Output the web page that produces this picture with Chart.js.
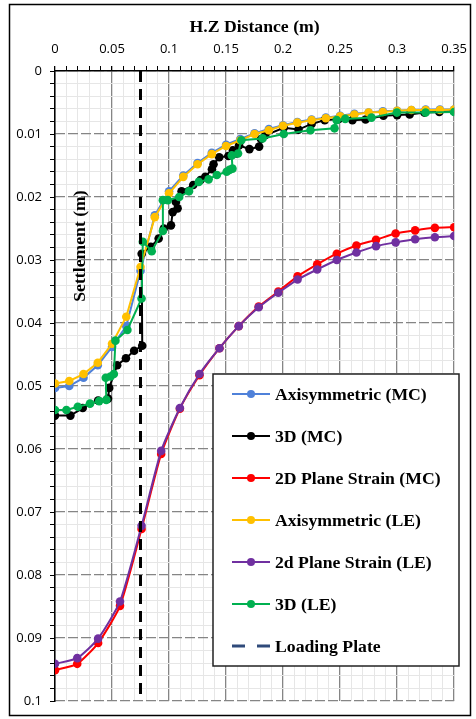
<!DOCTYPE html>
<html>
<head>
<meta charset="utf-8">
<script src="https://cdn.jsdelivr.net/npm/chart.js@4.4.0/dist/chart.umd.min.js"></script>
<style>
  html, body { margin: 0; padding: 0; background: #fff; }
  #wrap { width: 476px; height: 719px; }
</style>
</head>
<body>
<div id="wrap"><canvas id="myChart" width="476" height="719"></canvas></div>
<script>
// horizontal distance (m) / settlement (m)
const axiX = [0, 0.0125, 0.025, 0.0375, 0.05, 0.0625, 0.075, 0.0875, 0.1, 0.1125, 0.125, 0.1375, 0.15, 0.1625, 0.175,
  0.1875, 0.2, 0.2125, 0.225, 0.2375, 0.25, 0.2625, 0.275, 0.2875, 0.3, 0.3125, 0.325, 0.3375, 0.35];
const axiMC = [0.0503, 0.0500, 0.0487, 0.0467, 0.0438, 0.0405, 0.0317, 0.0229, 0.0191, 0.0166, 0.0146, 0.0130, 0.0117, 0.0108, 0.0099,
  0.0092, 0.0086, 0.0081, 0.0077, 0.0074, 0.0071, 0.0068, 0.0066, 0.0064, 0.0063, 0.0062, 0.0061, 0.0061, 0.0061];
const axiLE = [0.0496, 0.0492, 0.0481, 0.0463, 0.0433, 0.0390, 0.0311, 0.0232, 0.0194, 0.0168, 0.0148, 0.0132, 0.0119, 0.0110, 0.0100,
  0.0094, 0.0087, 0.0082, 0.0078, 0.0075, 0.0072, 0.0069, 0.0066, 0.0065, 0.0063, 0.0062, 0.0062, 0.0062, 0.0061];

const mc3dX = [0, 0.0135, 0.0243, 0.0378, 0.0465, 0.0475, 0.0545, 0.0622, 0.0694, 0.0765, 0.0760, 0.0840, 0.0909, 0.0954, 0.1017,
  0.1032, 0.1075, 0.1060, 0.1110, 0.1212, 0.1276, 0.1318, 0.1376, 0.1390, 0.1440, 0.1520, 0.1560, 0.1591, 0.1614, 0.1705,
  0.1790, 0.1806, 0.1843, 0.2006, 0.2135, 0.2250, 0.2365, 0.2490, 0.2608, 0.2723, 0.2880, 0.3000, 0.3110, 0.3239, 0.3370, 0.3497];
const mc3dY = [0.0547, 0.0547, 0.0535, 0.0523, 0.0520, 0.0503, 0.0467, 0.0456, 0.0444, 0.0436, 0.0290, 0.0279, 0.0266, 0.0250, 0.0245,
  0.0224, 0.0218, 0.0208, 0.0191, 0.0181, 0.0173, 0.0168, 0.0156, 0.0148, 0.0137, 0.0135, 0.0126, 0.0131, 0.0118, 0.0124,
  0.0120, 0.0108, 0.0102, 0.0090, 0.0093, 0.0084, 0.0078, 0.0076, 0.0078, 0.0077, 0.0071, 0.0070, 0.0069, 0.0066, 0.0065, 0.0064];

const le3dX = [0, 0.0100, 0.0200, 0.0307, 0.0387, 0.0450, 0.0445, 0.0487, 0.0516, 0.0530, 0.0635, 0.0759, 0.0770, 0.0848, 0.0946,
  0.0946, 0.0989, 0.1089, 0.1175, 0.1261, 0.1347, 0.1419, 0.1505, 0.1530, 0.1556, 0.1550, 0.1605, 0.1634, 0.1820, 0.2006,
  0.2240, 0.2451, 0.2470, 0.2545, 0.2775, 0.2998, 0.3250, 0.3500];
const le3dY = [0.0538, 0.0538, 0.0533, 0.0528, 0.0524, 0.0522, 0.0487, 0.0485, 0.0481, 0.0428, 0.0411, 0.0361, 0.0271, 0.0286, 0.0254,
  0.0205, 0.0205, 0.0200, 0.0191, 0.0176, 0.0172, 0.0165, 0.0160, 0.0157, 0.0155, 0.0134, 0.0131, 0.0110, 0.0107, 0.0100,
  0.0094, 0.0091, 0.0078, 0.0076, 0.0074, 0.0066, 0.0066, 0.0065];

const ps2dX = [0, 0.0195, 0.0378, 0.0570, 0.0759, 0.0931, 0.1095, 0.1267, 0.1442, 0.1611, 0.1786, 0.1958, 0.2127, 0.2299, 0.2471,
  0.2643, 0.2815, 0.2987, 0.3158, 0.3331, 0.35];
const ps2dMC = [0.0951, 0.0941, 0.0908, 0.0849, 0.0727, 0.0608, 0.0536, 0.0483, 0.0440, 0.0405, 0.0374, 0.0350, 0.0326, 0.0307, 0.0290,
  0.0277, 0.0268, 0.0258, 0.0253, 0.0249, 0.0248];
const ps2dLE = [0.0941, 0.0932, 0.0901, 0.0842, 0.0722, 0.0603, 0.0535, 0.0481, 0.0440, 0.0405, 0.0375, 0.0352, 0.0331, 0.0315, 0.0300,
  0.0288, 0.0278, 0.0272, 0.0267, 0.0264, 0.0262];

const plateX = [0.075, 0.075];
const plateY = [0, 0.1];

const xTicksMajor = [0, 0.05, 0.1, 0.15, 0.2, 0.25, 0.3, 0.35];
const yTicksMajor = [0, 0.01, 0.02, 0.03, 0.04, 0.05, 0.06, 0.07, 0.08, 0.09, 0.1];

function pts(xs, ys) {
  return xs.map((x, i) => ({ x: x, y: ys[i] }));
}

function series(label, xs, ys, color, order, tension) {
  return {
    label: label,
    data: pts(xs, ys),
    borderColor: color,
    backgroundColor: color,
    pointBackgroundColor: color,
    pointBorderColor: color,
    borderWidth: 2,
    pointRadius: 4.3,
    pointBorderWidth: 0,
    tension: tension || 0,
    order: order
  };
}

const tickFont = { family: 'Open Sans', size: 13 };
const serifBold = 'bold 17.7px "Liberation Serif"';

function isMajor(v, list) {
  return list.some(t => Math.abs(t - v) < 1e-6);
}

// legend + y title + outer frame
const extras = {
  id: 'extras',
  afterDraw(chart) {
    const ctx = chart.ctx;
    ctx.save();
    // y axis title sits inside the plot
    ctx.font = serifBold;
    ctx.fillStyle = '#000';
    ctx.textAlign = 'center';
    ctx.textBaseline = 'middle';
    ctx.translate(80, 246);
    ctx.rotate(-Math.PI / 2);
    ctx.fillText('Settlement (m)', 0, 0);
    ctx.restore();

    // legend box
    ctx.save();
    ctx.fillStyle = '#fff';
    ctx.fillRect(213, 374, 246, 292);
    ctx.strokeStyle = '#222';
    ctx.lineWidth = 1.5;
    ctx.strokeRect(213, 374, 246, 292);
    chart.data.datasets.forEach((ds, i) => {
      const y = 394 + i * 42;
      ctx.lineWidth = ds.legendDash ? 3 : 2;
      ctx.strokeStyle = ds.legendColor || ds.borderColor;
      ctx.setLineDash(ds.legendDash || []);
      ctx.beginPath();
      ctx.moveTo(232, y);
      ctx.lineTo(270, y);
      ctx.stroke();
      ctx.setLineDash([]);
      if (!ds.legendDash) {
        ctx.fillStyle = ds.borderColor;
        ctx.beginPath();
        ctx.arc(251, y, 4, 0, Math.PI * 2);
        ctx.fill();
      }
      ctx.fillStyle = '#000';
      ctx.font = serifBold;
      ctx.textAlign = 'left';
      ctx.textBaseline = 'middle';
      ctx.fillText(ds.label, 275, y + 1);
    });
    // outer frame
    ctx.strokeStyle = '#000';
    ctx.lineWidth = 1.5;
    ctx.strokeRect(9.5, 4.5, 461, 711);
    ctx.restore();
  }
};

const plate = {
  label: 'Loading Plate',
  data: pts(plateX, plateY),
  borderColor: '#000',
  borderWidth: 3,
  borderDash: [11, 7],
  pointRadius: 0,
  order: 1,
  legendColor: '#2f4a7a',
  legendDash: [13, 12]
};

new Chart(document.getElementById('myChart'), {
  type: 'line',
  data: {
    datasets: [
      series('Axisymmetric (MC)', axiX, axiMC, '#4f81d9', 7),
      series('3D (MC)', mc3dX, mc3dY, '#000000', 6),
      series('2D Plane Strain (MC)', ps2dX, ps2dMC, '#ff0000', 5, 0.2),
      series('Axisymmetric (LE)', axiX, axiLE, '#ffc000', 4),
      series('2d Plane Strain (LE)', ps2dX, ps2dLE, '#7030a0', 3, 0.2),
      series('3D (LE)', le3dX, le3dY, '#00b050', 2),
      plate
    ]
  },
  options: {
    responsive: false,
    animation: false,
    devicePixelRatio: 1,
    layout: { padding: { top: 10, left: 0, right: 14, bottom: 18 } },
    plugins: { legend: { display: false }, tooltip: { enabled: false } },
    scales: {
      x: {
        type: 'linear',
        position: 'top',
        min: 0,
        max: 0.35,
        afterFit: s => { s.height = 61; },
        ticks: {
          stepSize: 0.01,
          autoSkip: false,
          maxRotation: 0,
          padding: 9,
          font: tickFont,
          color: '#000',
          callback: v => isMajor(v, xTicksMajor) ? String(+v.toFixed(2)) : ''
        },
        grid: {
          color: c => isMajor(c.tick.value, xTicksMajor) ? '#858585' : '#e6e6e6',
          lineWidth: c => isMajor(c.tick.value, xTicksMajor) ? 1.3 : 1,
          tickColor: '#000',
          tickLength: 5
        },
        border: { color: '#000', width: 1.5 },
        title: {
          display: true,
          text: 'H.Z Distance (m)',
          color: '#000',
          font: { family: 'Liberation Serif', weight: 'bold', size: 17.7 },
          padding: { top: 7, bottom: 0 }
        }
      },
      y: {
        type: 'linear',
        position: 'left',
        reverse: true,
        min: 0,
        max: 0.1,
        afterFit: s => { s.width = 55; },
        ticks: {
          stepSize: 0.002,
          autoSkip: false,
          padding: 8,
          font: tickFont,
          color: '#000',
          callback: v => isMajor(v, yTicksMajor) ? String(+v.toFixed(2)) : ''
        },
        grid: {
          color: c => isMajor(c.tick.value, yTicksMajor) ? 'rgba(0,0,0,0)' : '#e6e6e6',
          tickColor: '#000',
          tickLength: 5
        },
        border: { color: '#000', width: 1.5 }
      },
      yMaj: {
        type: 'linear',
        position: 'left',
        reverse: true,
        min: 0,
        max: 0.1,
        ticks: { display: false, stepSize: 0.01 },
        grid: { color: '#858585', lineWidth: 1.3, drawTicks: false, borderDash: [10, 3] },
        border: { display: false, dash: [10, 3] }
      }
    }
  },
  plugins: [extras]
});
</script>
</body>
</html>
